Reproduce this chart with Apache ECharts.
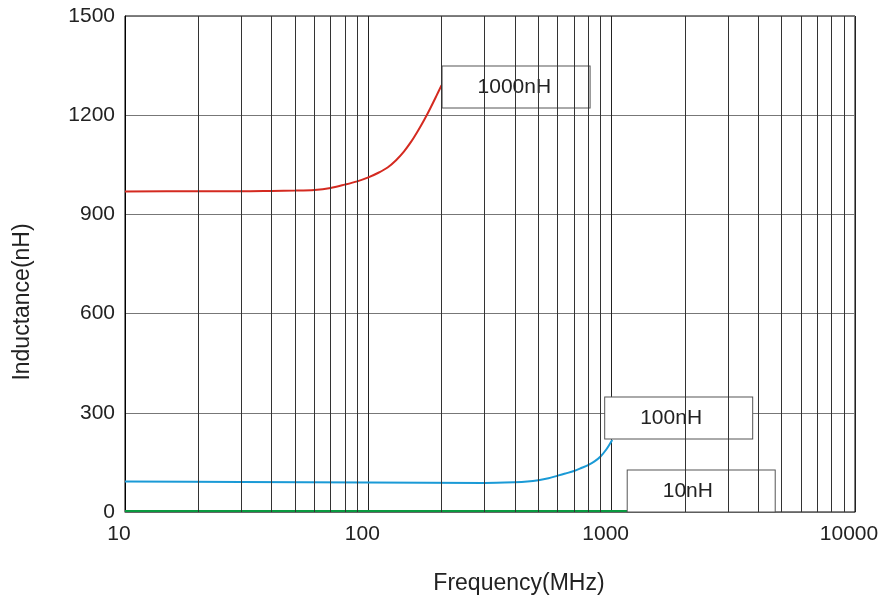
<!DOCTYPE html>
<html lang="en">
<head>
    <meta charset="UTF-8">
    <title>Inductance vs Frequency</title>
    <script src="https://cdn.jsdelivr.net/npm/echarts@6/dist/echarts.min.js"></script>
    <style>body{margin:0;background:#fff;}</style>
</head>
<body>
<div id="main" style="width: 885px;height:601px;"></div>
<script>
    // 1000nH 曲线
    var freq1000 = [10, 20, 30, 40, 50, 60, 70, 80, 90, 100, 110, 120, 130, 140, 150, 160, 170, 180, 190, 200];
    var ind1000 = [969, 970, 970, 971, 972, 974, 980, 990, 1000, 1012, 1026, 1042, 1064, 1090, 1120, 1153, 1187, 1222, 1257, 1291];
    // 100nH 曲线
    var freq100 = [10, 30, 100, 300, 400, 450, 500, 550, 600, 650, 700, 750, 800, 850, 900, 950, 1005];
    var ind100 = [92, 91, 89, 88, 90, 92, 96, 102, 110, 117, 124, 133, 142, 153, 168, 189, 218];
    // 10nH 曲线
    var freq10 = [10, 1175];
    var ind10 = [3, 3];
    // 对数网格线
    var minorFreq = [20, 30, 40, 50, 60, 70, 80, 90, 200, 300, 400, 500, 600, 700, 800, 900,
        2000, 3000, 4000, 5000, 6000, 7000, 8000, 9000];

    function pairs(xs, ys) {
        return xs.map(function (x, i) { return [x, ys[i]]; });
    }

    var boxLabel = function (text, offset, w) {
        return {
            show: true,
            formatter: text,
            color: '#222',
            fontSize: 21,
            fontFamily: 'Liberation Sans, Arial, sans-serif',
            backgroundColor: '#fff',
            borderColor: '#555',
            borderWidth: 1,
            padding: [10, 35, 10, 35],
            width: w,
            align: 'left',
            verticalAlign: 'middle',
            distance: 0,
            offset: offset
        };
    };

    var myChart = echarts.init(document.getElementById('main'));
    var option = {
        animation: false,
        textStyle: {fontFamily: 'Liberation Sans, Arial, sans-serif'},
        grid: {
            left: 125,
            right: 30,
            top: 16,
            bottom: 89,
            show: true,
            borderColor: '#000',
            borderWidth: 1
        },
        xAxis: {
            type: 'log',
            logBase: 10,
            min: 10,
            max: 10000,
            name: 'Frequency(MHz)',
            nameLocation: 'middle',
            nameGap: 60,
            nameTextStyle: {fontSize: 23, color: '#222', padding: [0, 0, 0, 58]},
            axisLine: {lineStyle: {color: '#666', width: 1}},
            axisTick: {show: false},
            axisLabel: {
                fontSize: 21, color: '#222', margin: 12, padding: [0, 12, 0, 0],
                formatter: function (v) { return String(v); }
            },
            splitLine: {show: true, lineStyle: {color: '#222', width: 1}}
        },
        yAxis: {
            type: 'value',
            min: 0,
            max: 1500,
            interval: 300,
            name: 'Inductance(nH)',
            nameLocation: 'middle',
            nameGap: 91,
            nameTextStyle: {fontSize: 23, color: '#222', padding: [0, 76, 0, 0]},
            axisLine: {show: true, lineStyle: {color: '#000', width: 1}},
            axisTick: {show: false},
            axisLabel: {
                fontSize: 21, color: '#222', margin: 10,
                formatter: function (v) { return String(v); }
            },
            splitLine: {show: true, lineStyle: {color: '#777', width: 1}}
        },
        series: [
            {
                name: '10nH',
                type: 'line',
                data: pairs(freq10, ind10),
                showSymbol: false,
                lineStyle: {color: '#0a9a40', width: 2},
                itemStyle: {color: '#0a9a40'},
                endLabel: boxLabel('10nH', [-1, -20], 77),
                markLine: {
                    silent: true,
                    symbol: ['none', 'none'],
                    label: {show: false},
                    lineStyle: {color: '#333', width: 1, type: 'solid'},
                    emphasis: {disabled: true},
                    data: minorFreq.map(function (f) { return {xAxis: f}; })
                },
                z: 3
            },
            {
                name: '100nH',
                type: 'line',
                data: pairs(freq100, ind100),
                smooth: 0.3,
                showSymbol: false,
                lineStyle: {color: '#1a9ad6', width: 2},
                itemStyle: {color: '#1a9ad6'},
                endLabel: boxLabel('100nH', [-7, -22], 77),
                z: 3
            },
            {
                name: '1000nH',
                type: 'line',
                data: pairs(freq1000, ind1000),
                smooth: 0.3,
                showSymbol: false,
                lineStyle: {color: '#d42a20', width: 2},
                itemStyle: {color: '#d42a20'},
                endLabel: boxLabel('1000nH', [1, 2], 77),
                z: 3
            }
        ]
    };
    myChart.setOption(option);
</script>
</body>
</html>
